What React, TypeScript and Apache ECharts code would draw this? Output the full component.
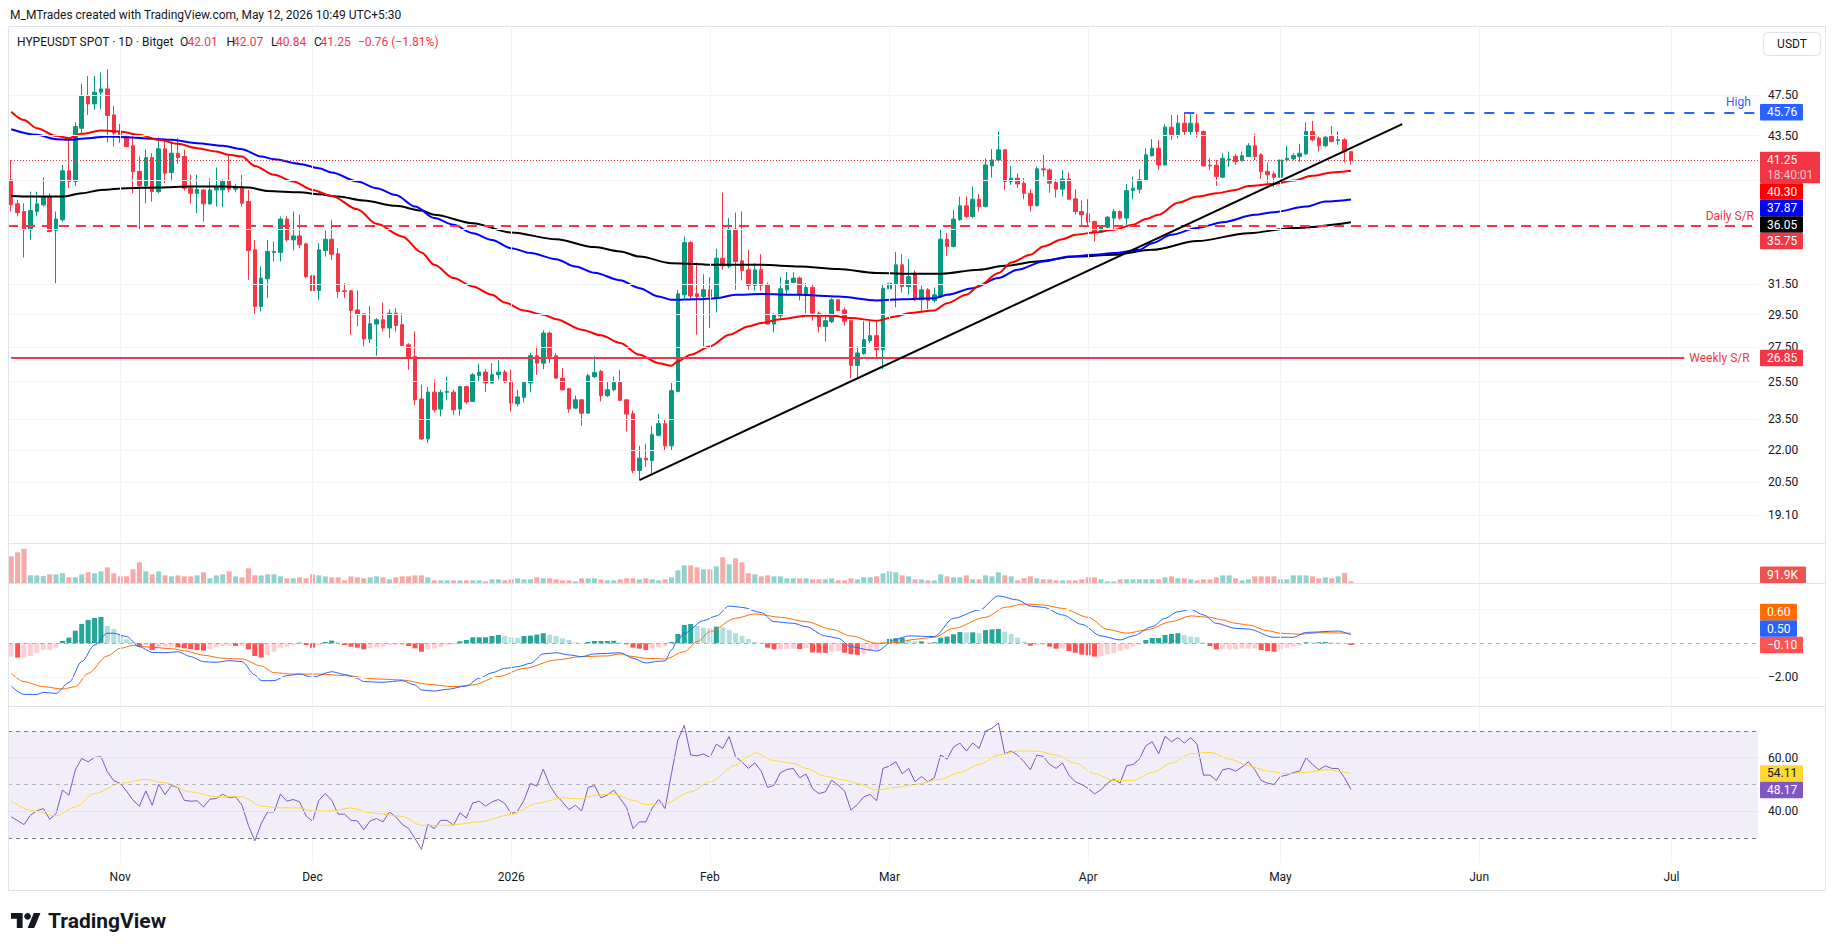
import React, { useEffect, useRef } from "react";
import * as echarts from "echarts";

const FONT = "Roboto, 'Noto Sans', 'DejaVu Sans', sans-serif";

// ---------- categories (one per calendar day) ----------
const START_UTC = Date.UTC(2025, 9, 15);
const CATEGORY_COUNT = 273;
const dates: string[] = Array.from({ length: CATEGORY_COUNT }, (_, i) =>
  new Date(START_UTC + i * 86400000).toISOString().slice(0, 10)
);
const monthTicks = ["2025-11-01", "2025-12-01", "2026-01-01", "2026-02-01", "2026-03-01", "2026-04-01", "2026-05-01", "2026-06-01", "2026-07-01"];
const monthLabels = ["Nov", "Dec", "2026", "Feb", "Mar", "Apr", "May", "Jun", "Jul"];

// ---------- price candles ----------
const open = [
  39.52, 37.51, 36.89, 35.46, 36.89, 37.43, 38.05, 35.41, 36.24, 40.3,
  39.38, 44.2, 47.41, 46.6, 47.79, 48.14, 45.5, 43.79, 43.48, 42.55,
  40.24, 39.0, 41.47, 38.52, 42.27, 40.15, 41.87, 41.57, 38.81, 38.38,
  38.66, 37.51, 38.66, 38.66, 39.46, 38.72, 38.95, 37.7, 33.95, 30.02,
  31.88, 33.76, 33.76, 36.29, 34.69, 34.99, 34.39, 32.09, 31.08, 33.9,
  34.74, 33.66, 31.06, 31.06, 29.8, 29.55, 27.98, 28.9, 29.17, 28.65,
  29.59, 28.86, 27.63, 26.94, 24.56, 22.52, 24.93, 24.03, 24.92, 24.93,
  24.03, 25.23, 24.43, 25.85, 26.04, 25.43, 25.89, 26.04, 25.48, 24.31,
  24.65, 25.43, 26.98, 26.55, 28.34, 26.98, 25.7, 25.12, 24.08, 24.52,
  23.82, 25.79, 26.08, 24.74, 25.06, 25.46, 24.52, 23.79, 21.03, 21.6,
  21.49, 22.7, 23.28, 22.19, 24.97, 30.79, 34.49, 30.86, 30.68, 31.13,
  30.57, 33.34, 32.75, 35.51, 33.15, 32.51, 31.42, 32.51, 31.47, 28.9,
  29.42, 31.13, 31.63, 31.93, 30.79, 31.29, 29.59, 28.75, 29.05, 30.46,
  29.8, 29.11, 26.42, 27.1, 27.87, 28.18, 27.33, 31.2, 31.54, 32.86,
  31.36, 32.28, 30.46, 31.13, 30.42, 30.72, 34.74, 34.2, 36.24, 37.35,
  36.5, 37.89, 37.29, 40.73, 41.26, 42.18, 39.38, 39.66, 39.23, 38.38,
  37.37, 40.47, 40.38, 39.29, 38.72, 39.6, 37.92, 36.89, 36.71, 36.1,
  35.25, 35.66, 36.37, 36.89, 36.37, 38.61, 38.72, 39.46, 41.63, 42.33,
  40.82, 44.3, 43.57, 44.69, 43.89, 44.69, 43.89, 40.79, 40.79, 39.74,
  41.26, 41.57, 41.2, 41.57, 42.55, 41.72, 40.24, 40.03, 39.74, 41.26,
  41.35, 41.57, 41.81, 43.89, 43.26, 42.55, 43.42, 43.04, 43.1, 42.01,
];
const high = [
  41.26, 37.84, 37.56, 38.52, 38.52, 39.71, 38.38, 36.89, 40.82, 43.26,
  44.78, 48.67, 49.51, 49.51, 49.88, 50.24, 46.4, 44.62, 43.58, 43.48,
  41.57, 42.24, 41.87, 43.32, 43.1, 42.95, 43.26, 42.18, 39.95, 39.95,
  38.72, 39.66, 40.59, 39.57, 41.72, 39.15, 39.95, 38.66, 34.69, 32.75,
  34.69, 34.57, 36.5, 36.5, 36.89, 36.63, 34.49, 32.28, 34.44, 35.41,
  36.24, 34.07, 31.58, 31.12, 31.08, 29.59, 30.06, 29.28, 30.28, 29.84,
  29.91, 29.59, 27.73, 28.44, 25.34, 25.21, 25.61, 25.06, 25.79, 25.06,
  25.28, 25.28, 25.98, 26.51, 26.21, 26.55, 26.74, 26.17, 26.17, 25.06,
  25.52, 27.14, 27.53, 28.51, 28.44, 27.14, 26.27, 25.15, 24.74, 24.52,
  25.94, 26.94, 26.17, 25.52, 25.79, 26.17, 24.52, 23.96, 22.19, 22.29,
  23.17, 23.78, 23.51, 25.43, 31.13, 34.95, 34.62, 33.03, 32.2, 32.0,
  34.03, 38.44, 36.37, 36.81, 36.89, 33.95, 32.98, 33.63, 31.63, 29.59,
  32.0, 32.35, 32.35, 32.04, 31.58, 31.54, 29.7, 29.55, 30.57, 30.5,
  29.97, 29.17, 27.53, 29.07, 29.07, 29.07, 31.47, 32.28, 33.78, 33.63,
  33.27, 32.46, 31.42, 31.24, 31.29, 35.46, 35.2, 37.02, 38.11, 38.11,
  38.95, 38.33, 41.41, 42.24, 43.89, 42.24, 40.73, 40.09, 39.66, 38.72,
  40.67, 41.72, 40.53, 39.57, 40.38, 40.15, 38.72, 37.78, 37.89, 36.16,
  35.76, 36.55, 37.1, 36.97, 39.17, 39.8, 40.44, 42.33, 43.16, 43.1,
  44.58, 45.5, 45.5, 45.76, 45.6, 45.6, 43.98, 41.41, 41.26, 41.87,
  42.02, 41.78, 42.02, 42.79, 43.67, 41.87, 41.02, 40.24, 41.32, 42.55,
  41.87, 42.73, 44.75, 44.91, 43.42, 43.48, 44.43, 43.89, 43.26, 42.07,
];
const low = [
  36.89, 36.5, 33.39, 34.69, 36.5, 37.29, 35.25, 31.58, 36.1, 38.81,
  39.0, 43.73, 45.5, 45.99, 46.06, 42.85, 42.48, 42.79, 42.42, 38.38,
  35.51, 37.56, 37.7, 38.38, 39.23, 39.38, 40.92, 38.61, 37.56, 36.76,
  36.1, 37.43, 37.29, 37.24, 38.44, 38.46, 37.29, 31.81, 29.49, 29.7,
  30.57, 33.1, 33.1, 34.57, 33.9, 34.07, 31.93, 29.17, 30.46, 33.46,
  33.22, 30.57, 30.57, 28.24, 28.75, 27.53, 27.73, 26.98, 28.44, 28.04,
  28.44, 27.53, 26.17, 24.25, 22.48, 22.32, 23.85, 23.65, 24.49, 23.73,
  23.7, 24.29, 24.4, 25.52, 24.93, 25.39, 25.61, 25.43, 23.9, 24.17,
  24.38, 24.92, 25.89, 26.21, 26.55, 25.64, 25.01, 23.85, 24.03, 23.19,
  23.79, 25.7, 24.43, 24.67, 24.97, 24.43, 22.89, 20.91, 20.64, 21.19,
  20.91, 22.65, 21.92, 21.95, 24.92, 30.57, 30.5, 28.24, 27.53, 28.65,
  29.63, 32.51, 32.63, 31.13, 31.77, 31.13, 31.06, 31.06, 28.86, 28.38,
  29.28, 30.79, 31.58, 30.42, 29.59, 29.11, 28.38, 27.83, 28.96, 29.7,
  28.8, 25.7, 25.75, 27.04, 27.73, 26.84, 26.21, 30.35, 29.97, 30.95,
  30.79, 30.39, 29.65, 29.84, 30.28, 30.57, 33.51, 34.12, 36.16, 36.37,
  36.37, 36.89, 37.21, 39.71, 41.11, 38.66, 39.09, 38.81, 37.89, 36.89,
  37.29, 39.8, 38.44, 38.03, 38.11, 37.84, 36.63, 35.76, 35.79, 34.57,
  35.2, 35.58, 35.41, 36.24, 35.84, 37.89, 38.38, 39.38, 41.57, 40.38,
  40.76, 43.1, 43.26, 43.48, 43.48, 43.35, 40.67, 40.38, 39.0, 39.66,
  40.67, 40.82, 41.11, 41.51, 41.26, 39.6, 39.23, 38.89, 39.66, 41.11,
  41.26, 41.11, 41.72, 42.95, 42.02, 42.42, 42.85, 42.64, 41.02, 40.84,
];
const close = [
  37.43, 36.81, 35.46, 36.97, 37.51, 38.11, 35.33, 36.29, 40.3, 39.38,
  44.36, 47.41, 46.6, 47.79, 48.14, 45.44, 43.73, 43.35, 42.48, 40.24,
  39.0, 41.47, 38.52, 42.27, 40.09, 41.87, 41.47, 38.81, 38.38, 38.72,
  37.51, 38.66, 38.89, 39.46, 38.72, 38.95, 37.56, 33.9, 30.02, 31.93,
  33.83, 33.83, 36.29, 34.69, 34.99, 34.32, 32.04, 31.08, 33.95, 34.74,
  33.63, 31.01, 31.01, 29.76, 29.49, 27.98, 28.92, 29.17, 28.65, 29.59,
  28.81, 27.59, 26.88, 24.52, 22.52, 24.93, 23.99, 24.92, 24.97, 23.99,
  25.23, 24.4, 25.89, 26.04, 25.43, 25.89, 26.04, 25.48, 24.35, 24.67,
  25.46, 26.98, 26.55, 28.34, 26.94, 25.7, 25.06, 24.04, 24.52, 23.82,
  25.83, 26.02, 24.74, 25.06, 25.46, 24.49, 23.77, 21.03, 21.6, 21.52,
  22.73, 23.28, 22.19, 25.01, 30.86, 34.49, 30.72, 30.68, 31.13, 30.68,
  33.34, 32.79, 35.51, 33.1, 32.46, 31.42, 32.51, 31.42, 28.9, 29.49,
  31.2, 31.77, 31.93, 30.79, 31.29, 29.59, 28.75, 29.11, 30.46, 29.76,
  29.07, 26.42, 27.14, 27.94, 28.18, 27.33, 31.24, 31.58, 32.86, 31.36,
  32.04, 30.46, 31.13, 30.42, 30.79, 34.74, 34.2, 36.29, 37.35, 36.5,
  37.89, 37.29, 40.82, 41.26, 42.18, 39.38, 39.66, 39.17, 38.38, 37.37,
  40.47, 40.38, 39.23, 38.72, 39.6, 37.89, 36.89, 36.63, 36.05, 35.25,
  35.71, 36.44, 36.89, 36.37, 38.61, 38.81, 39.52, 41.72, 42.33, 40.82,
  44.3, 43.57, 44.69, 43.89, 44.69, 43.89, 40.73, 40.73, 39.8, 41.41,
  41.35, 41.11, 41.63, 42.55, 41.57, 40.24, 39.95, 39.74, 41.26, 41.41,
  41.66, 41.87, 43.89, 43.1, 42.55, 43.35, 42.95, 43.1, 42.01, 41.25,
];

// ---------- moving averages: [day index, value] ----------
const ma50 = [
  [0, 45.82], [2, 45.0], [4, 44.2], [7, 43.48], [9, 43.26], [11, 43.67], [14, 43.98], [17, 43.89], [20, 43.57], [23, 43.1],
  [26, 42.73], [29, 42.33], [32, 42.02], [34, 41.72], [36, 41.57], [38, 40.73], [41, 39.95], [44, 39.38], [47, 38.66], [50, 38.16],
  [54, 37.07], [57, 35.92], [61, 34.95], [64, 33.76], [66, 32.86], [69, 31.93], [72, 31.36], [75, 30.79], [77, 30.28], [80, 29.76],
  [83, 29.49], [85, 29.21], [89, 28.55], [92, 28.2], [95, 27.73], [98, 27.04], [101, 26.55], [103, 26.4], [104, 26.65], [106, 27.04],
  [109, 27.53], [112, 28.24], [115, 28.75], [117, 28.96], [120, 29.21], [124, 29.42], [128, 29.42], [131, 29.28], [135, 29.11], [138, 29.38],
  [140, 29.59], [144, 29.76], [146, 30.24], [149, 30.79], [151, 31.4], [154, 32.28], [156, 33.03], [159, 33.59], [161, 34.2], [164, 34.74],
  [166, 35.08], [169, 35.25], [172, 35.46], [175, 35.84], [177, 36.3], [179, 36.63], [182, 37.6], [185, 38.11], [188, 38.38], [191, 38.66],
  [193, 39.0], [197, 39.17], [200, 39.46], [203, 39.86], [206, 40.15], [209, 40.3],
];
const ma100 = [
  [0, 44.11], [4, 43.57], [7, 43.16], [9, 43.1], [12, 43.26], [15, 43.42], [18, 43.35], [22, 43.2], [25, 43.1], [29, 42.79],
  [33, 42.55], [36, 42.24], [39, 41.57], [41, 41.32], [45, 40.91], [48, 40.53], [50, 40.15], [54, 39.38], [57, 38.81], [60, 38.24],
  [63, 37.29], [66, 36.37], [69, 35.84], [72, 35.2], [75, 34.69], [78, 34.07], [81, 33.71], [85, 33.27], [88, 32.75], [91, 32.3],
  [95, 31.78], [98, 31.24], [101, 30.68], [103, 30.46], [107, 30.5], [110, 30.57], [113, 30.79], [117, 30.84], [123, 30.79], [129, 30.68],
  [135, 30.42], [139, 30.5], [144, 30.57], [146, 30.79], [150, 31.24], [154, 31.93], [157, 32.51], [161, 33.1], [165, 33.46], [169, 33.59],
  [172, 33.71], [176, 33.95], [178, 34.44], [181, 35.08], [185, 35.59], [189, 36.05], [194, 36.63], [197, 36.84], [202, 37.29], [205, 37.7],
  [209, 37.87],
];
const ma200 = [
  [0, 38.16], [3, 38.11], [8, 38.11], [11, 38.38], [14, 38.66], [18, 38.81], [23, 38.87], [28, 38.95], [33, 38.95], [37, 38.87],
  [40, 38.58], [45, 38.46], [48, 38.3], [51, 38.11], [55, 37.78], [60, 37.35], [64, 36.97], [66, 36.63], [72, 35.97], [78, 35.25],
  [85, 34.74], [91, 34.15], [95, 33.83], [98, 33.46], [103, 32.98], [110, 32.86], [117, 32.86], [123, 32.75], [129, 32.56], [135, 32.28],
  [141, 32.23], [145, 32.23], [151, 32.51], [155, 32.79], [160, 33.1], [166, 33.46], [172, 33.59], [178, 33.95], [185, 34.6], [193, 35.2],
  [200, 35.59], [209, 36.05],
];

// ---------- drawn levels ----------
const trendDays = [98, 217];
const trendPrices = [20.6, 44.6];
const highLevel = 45.76;
const highStartDay = 183;
const dailySR = 35.75;
const weeklySR = 26.85;
const weeklyEndDay = 261;

// ---------- volume (thousands) ----------
const volumeK = [
  1440, 1656, 1854, 414, 414, 378, 468, 468, 522, 306,
  306, 468, 576, 522, 630, 846, 522, 360, 360, 738,
  1116, 630, 468, 630, 414, 360, 414, 360, 360, 414,
  576, 252, 414, 468, 630, 360, 306, 792, 414, 414,
  468, 468, 360, 252, 252, 306, 252, 468, 414, 360,
  306, 306, 144, 360, 306, 252, 306, 360, 306, 198,
  306, 360, 360, 414, 414, 306, 144, 144, 144, 144,
  144, 144, 144, 144, 90, 198, 198, 144, 198, 252,
  198, 198, 306, 252, 252, 198, 144, 144, 90, 252,
  252, 252, 198, 144, 144, 198, 252, 252, 198, 252,
  198, 144, 198, 306, 684, 954, 954, 846, 738, 738,
  900, 1386, 1008, 1332, 1116, 522, 468, 360, 414, 360,
  360, 252, 252, 252, 252, 198, 198, 198, 252, 144,
  144, 252, 198, 306, 306, 360, 522, 630, 576, 414,
  360, 198, 198, 144, 144, 468, 360, 306, 306, 414,
  198, 198, 414, 360, 576, 414, 360, 144, 252, 360,
  252, 198, 198, 144, 144, 144, 144, 198, 306, 306,
  198, 90, 90, 198, 198, 198, 198, 198, 198, 198,
  306, 360, 252, 252, 198, 144, 198, 198, 306, 414,
  414, 252, 144, 198, 360, 360, 360, 360, 198, 198,
  414, 414, 414, 360, 252, 306, 252, 360, 540, 91.9,
];

// ---------- MACD ----------
const macdHist = [
  -0.79, -0.85, -0.85, -0.75, -0.56, -0.4, -0.4, -0.26, 0.14, 0.34,
  0.75, 1.15, 1.39, 1.51, 1.57, 1.03, 0.85, 0.5, 0.24, 0.08,
  -0.2, -0.1, -0.4, -0.24, -0.2, -0.2, -0.24, -0.3, -0.34, -0.4,
  -0.44, -0.36, -0.24, -0.16, -0.14, -0.16, -0.16, -0.36, -0.75, -0.85,
  -0.69, -0.5, -0.26, -0.2, -0.12, 0.04, -0.1, -0.26, -0.1, 0.08,
  0.16, 0.06, -0.1, -0.2, -0.26, -0.36, -0.28, -0.24, -0.2, -0.1,
  -0.1, -0.1, -0.16, -0.3, -0.5, -0.36, -0.3, -0.2, -0.12, -0.08,
  0.12, 0.2, 0.36, 0.36, 0.36, 0.44, 0.5, 0.44, 0.36, 0.32,
  0.44, 0.46, 0.52, 0.6, 0.52, 0.44, 0.3, 0.2, 0.06, 0.02,
  0.08, 0.14, 0.14, 0.14, 0.15, 0.06, -0.06, -0.26, -0.32, -0.4,
  -0.3, -0.24, -0.16, 0.08, 0.56, 1.09, 1.15, 1.03, 0.93, 0.89,
  0.99, 0.95, 0.79, 0.6, 0.44, 0.26, 0.08, 0.04, -0.26, -0.36,
  -0.34, -0.33, -0.32, -0.34, -0.3, -0.54, -0.56, -0.57, -0.5, -0.46,
  -0.56, -0.65, -0.69, -0.63, -0.46, -0.4, 0.04, 0.26, 0.3, 0.32,
  0.2, 0.12, 0.12, 0.06, 0.06, 0.34, 0.4, 0.54, 0.67, 0.65,
  0.65, 0.6, 0.79, 0.83, 0.85, 0.69, 0.56, 0.34, 0.1, -0.14,
  -0.1, -0.1, -0.2, -0.32, -0.32, -0.46, -0.56, -0.67, -0.71, -0.79,
  -0.75, -0.65, -0.6, -0.46, -0.34, -0.2, -0.08, 0.2, 0.32, 0.32,
  0.5, 0.56, 0.6, 0.5, 0.4, 0.36, 0.06, -0.16, -0.36, -0.36,
  -0.36, -0.36, -0.32, -0.32, -0.3, -0.4, -0.46, -0.5, -0.36, -0.26,
  -0.2, -0.12, 0.06, 0.04, 0.06, 0.08, 0.06, 0.04, 0.01, -0.1,
];
const macdLine = [
  [0, -2.54], [2, -3.04], [4, -3.04], [5, -2.92], [7, -2.98], [9, -2.34], [11, -1.09], [13, -0.1], [15, 0.6], [16, 0.6],
  [18, 0.4], [20, -0.2], [22, -0.54], [24, -0.56], [26, -0.5], [28, -0.79], [30, -1.09], [32, -1.13], [34, -1.03], [36, -1.09],
  [38, -1.88], [39, -2.22], [41, -2.22], [43, -1.92], [45, -1.83], [47, -2.02], [50, -1.69], [52, -1.85], [54, -2.08], [55, -2.28],
  [58, -2.32], [61, -2.22], [63, -2.48], [64, -2.78], [66, -2.84], [68, -2.74], [71, -2.54], [73, -2.08], [75, -1.75], [77, -1.49],
  [79, -1.39], [81, -1.19], [83, -0.63], [85, -0.56], [87, -0.69], [89, -0.79], [91, -0.63], [93, -0.6], [95, -0.56], [97, -0.89],
  [99, -1.17], [101, -1.07], [102, -1.05], [103, -0.4], [104, 0.2], [105, 0.6], [108, 1.35], [110, 1.63], [112, 2.22], [114, 2.14],
  [117, 1.83], [119, 1.29], [122, 1.19], [124, 0.99], [127, 0.44], [129, 0.3], [131, -0.2], [134, -0.4], [135, -0.46], [138, 0.24],
  [140, 0.44], [144, 0.4], [147, 1.49], [151, 1.98], [154, 2.82], [157, 2.58], [159, 2.22], [161, 2.14], [164, 1.69], [167, 1.13],
  [170, 0.44], [173, 0.2], [175, 0.44], [178, 0.99], [180, 1.49], [182, 1.88], [184, 2.02], [186, 1.69], [188, 1.19], [191, 0.89],
  [193, 0.85], [197, 0.36], [200, 0.36], [202, 0.65], [207, 0.73], [209, 0.5],
];
const macdSignal = [
  [0, -1.79], [2, -2.28], [5, -2.58], [8, -2.72], [10, -2.58], [12, -1.79], [15, -0.75], [17, -0.3], [19, -0.12], [22, -0.24],
  [25, -0.32], [27, -0.44], [30, -0.71], [33, -0.89], [36, -0.93], [39, -1.35], [41, -1.75], [44, -1.83], [48, -1.83], [52, -1.92],
  [57, -2.12], [61, -2.18], [65, -2.44], [69, -2.58], [72, -2.48], [76, -1.98], [80, -1.49], [85, -0.99], [89, -0.79], [93, -0.75],
  [95, -0.63], [97, -0.79], [99, -0.89], [102, -0.93], [105, -0.5], [107, 0.1], [109, 0.69], [113, 1.49], [116, 1.75], [120, 1.55],
  [124, 1.29], [128, 0.83], [131, 0.44], [135, 0.0], [138, 0.04], [141, 0.24], [144, 0.36], [147, 0.89], [152, 1.55], [155, 2.14],
  [158, 2.34], [161, 2.28], [164, 2.08], [168, 1.55], [171, 0.83], [174, 0.6], [177, 0.79], [181, 1.29], [184, 1.63], [187, 1.55],
  [189, 1.39], [191, 1.19], [193, 1.09], [196, 0.75], [198, 0.6], [201, 0.54], [204, 0.63], [209, 0.6],
];

// ---------- RSI ----------
const rsi = [
  37.9, 36.5, 35.0, 38.5, 40.2, 41.0, 37.0, 39.1, 47.9, 46.0,
  55.4, 59.75, 58.5, 60.1, 60.4, 54.75, 51.4, 50.4, 47.5, 44.1,
  41.9, 47.6, 42.25, 50.1, 46.25, 49.6, 48.9, 44.1, 43.75, 43.9,
  41.6, 44.5, 44.75, 46.4, 45.0, 45.4, 42.25, 34.75, 28.9, 35.4,
  39.75, 39.75, 46.4, 43.75, 44.4, 43.5, 38.25, 36.25, 44.1, 46.6,
  44.1, 38.9, 38.9, 36.6, 36.4, 33.1, 36.4, 37.25, 36.0, 39.75,
  37.9, 35.1, 33.5, 29.75, 25.75, 35.1, 33.5, 36.6, 36.6, 34.75,
  39.4, 37.5, 43.1, 43.75, 41.9, 43.5, 44.4, 42.9, 39.1, 40.1,
  44.1, 50.4, 49.4, 55.75, 49.75, 46.0, 43.5, 40.6, 42.25, 40.1,
  48.9, 49.6, 45.0, 46.0, 47.9, 44.75, 41.4, 33.5, 36.0, 36.0,
  41.25, 44.4, 41.0, 54.1, 66.6, 72.1, 61.0, 60.75, 61.4, 60.1,
  65.1, 63.5, 67.9, 60.4, 58.5, 56.0, 58.1, 55.0, 48.9, 49.75,
  54.4, 55.6, 56.0, 52.5, 53.9, 48.5, 46.6, 47.25, 51.6, 49.75,
  47.6, 40.4, 42.5, 45.4, 46.25, 43.9, 56.0, 56.9, 58.5, 54.0,
  56.0, 51.0, 53.0, 51.0, 52.5, 61.0, 59.5, 64.0, 65.5, 62.5,
  65.5, 63.5, 70.0, 71.0, 73.0, 61.5, 62.5, 61.0, 58.5, 55.5,
  61.0, 60.5, 57.5, 56.0, 58.0, 53.5, 51.0, 50.0, 48.5, 46.5,
  48.0, 50.5, 52.0, 50.5, 57.0, 57.5, 59.5, 64.5, 66.0, 61.5,
  68.0, 66.0, 67.5, 65.5, 67.5, 65.0, 53.5, 53.5, 51.5, 55.5,
  56.0, 55.0, 56.5, 58.5, 55.5, 51.5, 50.5, 50.0, 53.0, 53.5,
  54.5, 55.0, 60.0, 57.5, 55.5, 57.0, 56.0, 56.0, 52.5, 48.17,
];
const rsiMa = [
  [0, 43.75], [3, 40.4], [7, 38.25], [10, 41.6], [13, 46.6], [17, 50.4], [21, 51.9], [24, 50.6], [28, 47.25], [32, 45.4],
  [36, 45.4], [39, 41.9], [42, 41.25], [45, 41.25], [47, 40.1], [50, 40.1], [53, 41.25], [56, 39.4], [61, 38.1], [64, 34.75],
  [68, 34.75], [73, 36.0], [78, 38.75], [82, 42.9], [86, 45.0], [89, 44.6], [91, 46.0], [94, 46.4], [97, 44.1], [99, 42.5],
  [102, 42.9], [106, 47.25], [109, 51.0], [113, 57.25], [115, 60.4], [116, 61.9], [119, 58.9], [122, 57.9], [124, 56.0], [127, 53.1],
  [130, 51.6], [132, 50.4], [135, 47.9], [138, 48.9], [141, 50.0], [145, 52.0], [148, 54.5], [151, 57.5], [154, 61.0], [157, 62.5],
  [160, 62.5], [163, 61.0], [166, 58.0], [169, 54.0], [172, 51.5], [175, 51.5], [178, 54.5], [181, 58.0], [184, 61.5], [187, 62.0],
  [190, 59.5], [193, 57.0], [196, 55.0], [199, 54.0], [202, 54.5], [205, 55.5], [209, 54.11],
];

// ---------- axis tick labels ----------
const priceGridTicks = [47.5, 43.5, 39.5, 35.5, 31.5, 29.5, 27.5, 25.5, 23.5, 22.0, 20.5, 19.1];
const macdGridTicks = [2, -2];
const rsiGridTicks = [60, 40];

// ---------- layout ----------
const PLOT_LEFT = 8;
const PLOT_WIDTH = 1750;
const grids = [
  { left: PLOT_LEFT, top: 27, width: PLOT_WIDTH, height: 516 },
  { left: PLOT_LEFT, top: 544, width: PLOT_WIDTH, height: 39 },
  { left: PLOT_LEFT, top: 584, width: PLOT_WIDTH, height: 122 },
  { left: PLOT_LEFT, top: 707, width: PLOT_WIDTH, height: 156 },
];

const pairs = (arr: number[][]) => arr.map(([d, v]) => [dates[d], v]);
const fmtNeg = (v: number, d = 2) => (v < 0 ? "\u2212" : "") + Math.abs(v).toFixed(d);

function buildOption() {
  const vLines = monthTicks.map((d) => ({ xAxis: d }));
  const gridSeries = (idx: number, hLines: any[], z = 1) => ({
    type: "line",
    xAxisIndex: idx,
    yAxisIndex: idx,
    data: [],
    silent: true,
    z,
    markLine: {
      silent: true,
      symbol: ["none", "none"],
      animation: false,
      label: { show: false },
      lineStyle: { color: "#f0f3fa", width: 1, type: "solid" },
      data: [...vLines, ...hLines],
    },
  });

  const histColors = macdHist.map((v, i) => {
    const prev = i > 0 ? macdHist[i - 1] : v;
    if (v >= 0) return v >= prev ? "#26A69A" : "#B2DFDB";
    return v < prev ? "#FF5252" : "#FFCDD2";
  });

  const offAxis = { axisLine: { show: false }, axisTick: { show: false }, splitLine: { show: false }, axisLabel: { show: false } };

  return {
    animation: false,
    backgroundColor: "#ffffff",
    textStyle: { fontFamily: FONT },
    grid: grids,
    xAxis: grids.map((_, g) => ({
      type: "category",
      gridIndex: g,
      data: dates,
      boundaryGap: true,
      axisLine: { show: false },
      axisTick: { show: false },
      splitLine: { show: false },
      axisLabel:
        g === 3
          ? {
              show: true,
              interval: (_i: number, val: string) => monthTicks.indexOf(val) >= 0,
              formatter: (val: string) => monthLabels[monthTicks.indexOf(val)] || "",
              color: "#131722",
              fontSize: 12,
              fontFamily: FONT,
              margin: 8,
            }
          : { show: false },
    })),
    yAxis: [
      { type: "log", logBase: 10, gridIndex: 0, min: 17.97, max: 55.06, ...offAxis },
      { type: "value", gridIndex: 1, min: 0, max: 2106, ...offAxis },
      { type: "value", gridIndex: 2, min: -3.73, max: 3.53, ...offAxis },
      { type: "value", gridIndex: 3, min: 20.65, max: 78.97, ...offAxis },
    ],
    series: [
      // ---- main pane ----
      gridSeries(0, priceGridTicks.map((v) => ({ yAxis: v }))),
      {
        type: "line",
        xAxisIndex: 0,
        yAxisIndex: 0,
        data: [],
        silent: true,
        z: 2,
        markLine: {
          silent: true,
          symbol: ["none", "none"],
          animation: false,
          data: [
            {
              yAxis: close[close.length - 1],
              lineStyle: { color: "#F23645", width: 1, type: [1, 2] },
              label: { show: false },
            },
            {
              yAxis: dailySR,
              lineStyle: { color: "#F23645", width: 2, type: [10, 7] },
              label: { show: true, position: "insideEndTop", formatter: "Daily S/R", color: "#F23645", fontSize: 12, fontFamily: FONT, distance: 4 },
            },
            [
              {
                coord: [dates[highStartDay], highLevel],
                lineStyle: { color: "#2962FF", width: 2, type: [10, 10] },
                label: { show: true, position: "insideEndTop", formatter: "High", color: "#2962FF", fontSize: 12, fontFamily: FONT, distance: 4 },
              },
              { coord: [dates[CATEGORY_COUNT - 1], highLevel] },
            ],
            [
              {
                coord: [dates[0], weeklySR],
                lineStyle: { color: "#F23645", width: 2, type: "solid" },
                label: { show: true, position: "end", formatter: "Weekly S/R", color: "#F23645", fontSize: 12, fontFamily: FONT, distance: 5 },
              },
              { coord: [dates[weeklyEndDay], weeklySR] },
            ],
          ],
        },
      },
      {
        type: "candlestick",
        xAxisIndex: 0,
        yAxisIndex: 0,
        z: 3,
        barWidth: 4,
        data: open.map((o, i) => [o, close[i], low[i], high[i]]),
        itemStyle: { color: "#089981", color0: "#F23645", borderColor: "#089981", borderColor0: "#F23645", borderWidth: 1 },
      },
      {
        type: "line", xAxisIndex: 0, yAxisIndex: 0, z: 4, symbol: "none", smooth: 0.3, smoothMonotone: "x",
        data: pairs(ma200), lineStyle: { color: "#000000", width: 2 },
      },
      {
        type: "line", xAxisIndex: 0, yAxisIndex: 0, z: 4, symbol: "none", smooth: 0.3, smoothMonotone: "x",
        data: pairs(ma100), lineStyle: { color: "#0000FF", width: 2 },
      },
      {
        type: "line", xAxisIndex: 0, yAxisIndex: 0, z: 4, symbol: "none", smooth: 0.3, smoothMonotone: "x",
        data: pairs(ma50), lineStyle: { color: "#FF0000", width: 2 },
      },
      {
        type: "line", xAxisIndex: 0, yAxisIndex: 0, z: 5, symbol: "none",
        data: trendDays.map((d, k) => [dates[d], trendPrices[k]]),
        lineStyle: { color: "#000000", width: 2 },
      },
      // ---- volume pane ----
      gridSeries(1, []),
      {
        type: "bar",
        xAxisIndex: 1,
        yAxisIndex: 1,
        z: 3,
        barWidth: 5,
        data: volumeK.map((v, i) => ({
          value: v,
          itemStyle: { color: close[i] >= open[i] ? "rgba(38,166,154,0.5)" : "rgba(239,83,80,0.5)" },
        })),
      },
      // ---- MACD pane ----
      gridSeries(2, [
        ...macdGridTicks.map((v) => ({ yAxis: v })),
        { yAxis: 0, lineStyle: { color: "rgba(120,123,134,0.55)", width: 1, type: [4, 4] } },
      ]),
      {
        type: "bar",
        xAxisIndex: 2,
        yAxisIndex: 2,
        z: 3,
        barWidth: 5,
        data: macdHist.map((v, i) => ({ value: v, itemStyle: { color: histColors[i] } })),
      },
      {
        type: "line", xAxisIndex: 2, yAxisIndex: 2, z: 4, symbol: "none", smooth: 0.3, smoothMonotone: "x",
        data: pairs(macdSignal), lineStyle: { color: "#FF6D00", width: 1 },
      },
      {
        type: "line", xAxisIndex: 2, yAxisIndex: 2, z: 4, symbol: "none", smooth: 0.3, smoothMonotone: "x",
        data: pairs(macdLine), lineStyle: { color: "#2962FF", width: 1 },
      },
      // ---- RSI pane ----
      {
        type: "line",
        xAxisIndex: 3,
        yAxisIndex: 3,
        data: [],
        silent: true,
        z: 0,
        markArea: {
          silent: true,
          itemStyle: { color: "rgba(126,87,194,0.1)" },
          data: [[{ yAxis: 70 }, { yAxis: 30 }]],
        },
      },
      gridSeries(3, [
        ...rsiGridTicks.map((v) => ({ yAxis: v, lineStyle: { color: "#e4e3ee", width: 1, type: "solid" } })),
        { yAxis: 70, lineStyle: { color: "#787B86", width: 1, type: [4, 4] } },
        { yAxis: 30, lineStyle: { color: "#787B86", width: 1, type: [4, 4] } },
        { yAxis: 50, lineStyle: { color: "rgba(120,123,134,0.5)", width: 1, type: [4, 4] } },
      ]),
      {
        type: "line", xAxisIndex: 3, yAxisIndex: 3, z: 4, symbol: "none",
        data: rsi, lineStyle: { color: "#7E57C2", width: 1 },
      },
      {
        type: "line", xAxisIndex: 3, yAxisIndex: 3, z: 4, symbol: "none", smooth: 0.3, smoothMonotone: "x",
        data: pairs(rsiMa), lineStyle: { color: "#FDD835", width: 1 },
      },
    ],
  };
}

function textEl(x: number, y: number, text: string, o: any = {}) {
  const align = o.align || "left";
  return {
    type: "text",
    x,
    y,
    z: 100,
    silent: true,
    style: {
      text,
      fill: o.color || "#131722",
      fontSize: o.size || 12,
      fontFamily: FONT,
      fontWeight: o.weight || "normal",
      textAlign: align,
      align,
      textVerticalAlign: "middle",
      verticalAlign: "middle",
    },
  };
}

function buildGraphics(chart: any) {
  const els: any[] = [];
  const yPix = (axis: number, v: number) => chart.convertToPixel({ yAxisIndex: axis }, v) as number;
  const LBL_X = 1768;
  const BOX_X = 1760;
  const BOX_H = 16.5;

  // frame & pane separators
  els.push({ type: "rect", z: 90, silent: true, shape: { x: 8.5, y: 26.5, width: 1817, height: 864 }, style: { fill: "none", stroke: "#e0e3eb", lineWidth: 1 } });
  [543.5, 583.5, 706.5].forEach((yy) =>
    els.push({ type: "line", z: 90, silent: true, shape: { x1: 8, y1: yy, x2: 1825, y2: yy }, style: { stroke: "#e0e3eb", lineWidth: 1 } })
  );

  // header
  els.push(textEl(10, 15, "M_MTrades created with TradingView.com, May 12, 2026 10:49 UTC+5:30"));
  els.push(textEl(17, 42, "HYPEUSDT SPOT \u00b7 1D \u00b7 Bitget"));
  const last = close.length - 1;
  const chg = close[last] - close[last - 1];
  const chgPct = (chg / close[last - 1]) * 100;
  const ohlc: [number, string, string, number][] = [
    [180, "O", open[last].toFixed(2), 7.5],
    [226.5, "H", high[last].toFixed(2), 6.5],
    [271, "L", low[last].toFixed(2), 5],
    [314, "C", close[last].toFixed(2), 6.5],
  ];
  ohlc.forEach(([x, k, v, dx]) => {
    els.push(textEl(x, 42, k));
    els.push(textEl(x + dx, 42, v, { color: "#F23645" }));
  });
  els.push(textEl(358, 42, `${fmtNeg(chg)} (${fmtNeg(chgPct)}%)`, { color: "#F23645" }));

  // USDT box
  els.push({ type: "rect", z: 100, silent: true, shape: { x: 1763.5, y: 32.5, width: 57, height: 23, r: 4 }, style: { fill: "#ffffff", stroke: "#e0e3eb", lineWidth: 1 } });
  els.push(textEl(1792, 44, "USDT", { align: "center" }));

  // value boxes: placement first
  const placed: any[] = [];
  const stackDown = (items: any[]) => {
    items.sort((a, b) => a.y - b.y);
    let prev = -1e9;
    items.forEach((it) => {
      it.h = BOX_H + (it.lines.length - 1) * 15;
      it.top = Math.max(it.y - BOX_H / 2, prev);
      prev = it.top + it.h;
      placed.push(it);
    });
  };
  const stackUp = (items: any[]) => {
    items.sort((a, b) => b.y - a.y);
    let prev = 1e9;
    items.forEach((it) => {
      it.h = BOX_H;
      const bottom = Math.min(it.y + BOX_H / 2, prev);
      it.top = bottom - it.h;
      prev = it.top;
      placed.push(it);
    });
  };

  const lastMa = (arr: number[][]) => arr[arr.length - 1][1];
  stackDown([
    { y: yPix(0, highLevel), lines: [highLevel.toFixed(2)], bg: "#2962FF", fg: "#ffffff", w: 43 },
    { y: yPix(0, close[last]), lines: [close[last].toFixed(2), "18:40:01"], bg: "#F23645", fg: "#ffffff", w: 60 },
    { y: yPix(0, lastMa(ma50)), lines: [lastMa(ma50).toFixed(2)], bg: "#FF0000", fg: "#ffffff", w: 43 },
    { y: yPix(0, lastMa(ma100)), lines: [lastMa(ma100).toFixed(2)], bg: "#0000FF", fg: "#ffffff", w: 43 },
    { y: yPix(0, lastMa(ma200)), lines: [lastMa(ma200).toFixed(2)], bg: "#000000", fg: "#ffffff", w: 43 },
    { y: yPix(0, dailySR), lines: [dailySR.toFixed(2)], bg: "#F23645", fg: "#ffffff", w: 43 },
    { y: yPix(0, weeklySR), lines: [weeklySR.toFixed(2)], bg: "#F23645", fg: "#ffffff", w: 43 },
  ]);

  const vLast = volumeK[volumeK.length - 1];
  const vy = Math.min(yPix(1, vLast), 583 - BOX_H / 2);
  placed.push({ top: vy - BOX_H / 2, h: BOX_H, w: 46, lines: [vLast.toFixed(1) + "K"], bg: "#EF5350", fg: "#ffffff" });

  stackUp([
    { y: yPix(2, lastMa(macdSignal)), lines: [fmtNeg(lastMa(macdSignal))], bg: "#FF6D00", fg: "#ffffff", w: 37 },
    { y: yPix(2, lastMa(macdLine)), lines: [fmtNeg(lastMa(macdLine))], bg: "#2962FF", fg: "#ffffff", w: 37 },
    { y: yPix(2, macdHist[macdHist.length - 1]), lines: [fmtNeg(macdHist[macdHist.length - 1])], bg: "#FF5252", fg: "#ffffff", w: 43 },
  ]);

  stackDown([
    { y: yPix(3, lastMa(rsiMa)), lines: [lastMa(rsiMa).toFixed(2)], bg: "#FDD835", fg: "#131722", w: 43 },
    { y: yPix(3, rsi[rsi.length - 1]), lines: [rsi[rsi.length - 1].toFixed(2)], bg: "#7E57C2", fg: "#ffffff", w: 43 },
  ]);

  // axis tick labels (hidden where a value box covers them, as on the price scale)
  const covered = (yy: number) => placed.some((b) => yy >= b.top - 2 && yy <= b.top + b.h + 2);
  const tick = (axis: number, v: number, txt: string) => {
    const yy = yPix(axis, v);
    if (!covered(yy)) els.push(textEl(LBL_X, yy, txt));
  };
  priceGridTicks.forEach((v) => tick(0, v, v.toFixed(2)));
  macdGridTicks.forEach((v) => tick(2, v, fmtNeg(v)));
  rsiGridTicks.forEach((v) => tick(3, v, v.toFixed(2)));

  // draw boxes on top
  placed.forEach((b) => {
    els.push({ type: "rect", z: 110, silent: true, shape: { x: BOX_X, y: b.top, width: b.w, height: b.h, r: 1 }, style: { fill: b.bg } });
    b.lines.forEach((t: string, k: number) =>
      els.push({ ...textEl(BOX_X + 7, b.top + BOX_H / 2 + k * 15, t, { color: k === 0 ? b.fg : "rgba(255,255,255,0.72)" }), z: 120 })
    );
  });

  // TradingView logo
  const s = 0.83, ox = 11, oy = 909.7;
  const P = (pts: number[][]) => pts.map(([x, y]) => [ox + x * s, oy + y * s]);
  els.push({ type: "polygon", z: 100, silent: true, shape: { points: P([[0, 4], [14, 4], [14, 22], [7, 22], [7, 11], [0, 11]]) }, style: { fill: "#131722" } });
  els.push({ type: "polygon", z: 100, silent: true, shape: { points: P([[20, 22], [27.5, 4], [35.5, 4], [28, 22]]) }, style: { fill: "#131722" } });
  els.push({ type: "circle", z: 100, silent: true, shape: { cx: ox + 20 * s, cy: oy + 8 * s, r: 4 * s }, style: { fill: "#131722" } });
  els.push(textEl(48, 921, "TradingView", { size: 21, weight: "bold" }));

  return els;
}

export default function App() {
  const ref = useRef<HTMLDivElement | null>(null);
  useEffect(() => {
    if (!ref.current) return;
    const chart = echarts.init(ref.current, null, { renderer: "svg" });
    chart.setOption(buildOption() as any);
    chart.setOption({ graphic: { elements: buildGraphics(chart) } } as any);
    return () => chart.dispose();
  }, []);
  return (
    <div
      ref={ref}
      style={{ position: "fixed", left: 0, top: 0, width: 1835, height: 951, background: "#ffffff" }}
    />
  );
}
